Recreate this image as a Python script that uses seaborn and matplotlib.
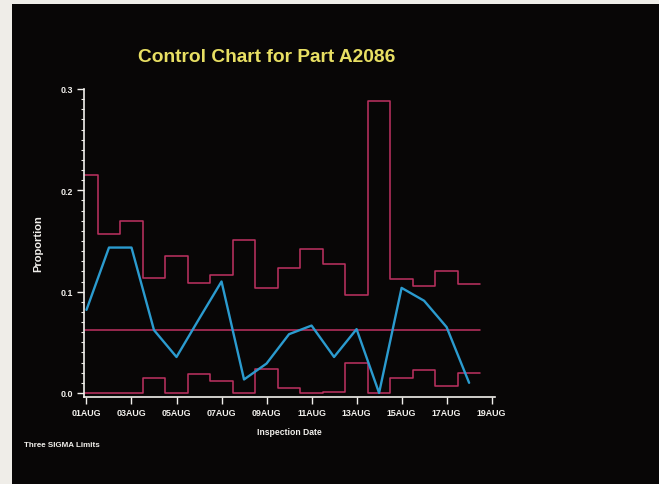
import numpy as np
import pandas as pd
import matplotlib
matplotlib.use("Agg")
import matplotlib.pyplot as plt
from matplotlib.patches import Rectangle
from matplotlib.ticker import MultipleLocator, FixedLocator
import seaborn as sns

# Inspection days (August) and the proportion defective per day
days = np.arange(1, 19)
proportion = [0.082, 0.1435, 0.1435, 0.062, 0.0355, 0.073, 0.110, 0.0133, 0.029,
              0.058, 0.0665, 0.0355, 0.063, 0.0, 0.1037, 0.091, 0.065, 0.010]
# Three-sigma control limits (vary with the daily sample size)
ucl = [0.2153, 0.157, 0.170, 0.113, 0.135, 0.1086, 0.1166, 0.151, 0.104,
       0.1236, 0.1425, 0.127, 0.0967, 0.288, 0.1123, 0.1053, 0.120, 0.1073]
lcl = [0.0, 0.0, 0.0, 0.0143, 0.0, 0.0186, 0.0113, 0.0, 0.0233,
       0.0047, 0.0, 0.001, 0.030, 0.0, 0.015, 0.0226, 0.0066, 0.020]
center = 0.0625
tick_days = list(range(1, 20, 2))
tick_labels = [f"{d:02d}AUG" for d in tick_days]
y_ticks = [0.0, 0.1, 0.2, 0.3]

sns.set_style("dark")
plt.rcParams["font.family"] = ["Liberation Sans", "DejaVu Sans"]

BG = "#080606"
PINK = "#b8305e"
BLUE = "#2b9bcf"
WHITE = "#f2f0ec"
YELLOW = "#e8df63"

fig = plt.figure(figsize=(6.59, 4.85), dpi=100, facecolor="#efede8")
fig.patches.append(Rectangle((12 / 659, 0), 1, 1 - 5 / 485, transform=fig.transFigure,
                             facecolor=BG, edgecolor="none", zorder=-10))

ax = fig.add_axes([84 / 659, 1 - 398 / 485, (495 - 84) / 659, (398 - 90) / 485])
ax.set_zorder(2)
ax.set_facecolor(BG)

# step outlines for the control limits, each held for one day
edges = np.column_stack([days - 0.5, days + 0.5]).ravel()
steps = pd.DataFrame({"day": edges,
                      "ucl": np.repeat(ucl, 2),
                      "lcl": np.repeat(lcl, 2)})
for col in ["ucl", "lcl"]:
    sns.lineplot(data=steps, x="day", y=col, sort=False, estimator=None,
                 color=PINK, lw=1.15, ax=ax)
ax.plot([0.8, days[-1] + 0.5], [center, center], color=PINK, lw=1.15)

obs = pd.DataFrame({"day": days, "p": proportion})
sns.lineplot(data=obs, x="day", y="p", estimator=None, color=BLUE, lw=1.7, ax=ax)

ax.set_xlim(0.89, 19.15)
ax.set_ylim(-0.004, 0.3)

for side in ["top", "right"]:
    ax.spines[side].set_visible(False)
for side in ["left", "bottom"]:
    ax.spines[side].set_visible(True)
    ax.spines[side].set_color(WHITE)
    ax.spines[side].set_linewidth(1.2)

ax.xaxis.set_major_locator(FixedLocator(tick_days))
ax.set_xticklabels(tick_labels)
ax.xaxis.set_minor_locator(FixedLocator(days))
ax.yaxis.set_major_locator(FixedLocator(y_ticks))
ax.set_yticklabels([f"{v:.1f}" for v in y_ticks])
ax.yaxis.set_minor_locator(MultipleLocator(0.01))

ax.tick_params(axis="both", which="major", colors=WHITE, labelcolor=WHITE,
               labelsize=6.4, width=1.0, length=5, direction="out", pad=3,
               bottom=True, left=True)
ax.tick_params(axis="both", which="minor", colors=WHITE, width=0.8, length=2.5,
               direction="out", bottom=False, left=True)
for lab in ax.get_xticklabels() + ax.get_yticklabels():
    lab.set_fontweight("bold")
ax.grid(False)

ax.set_xlabel("Inspection Date", color=WHITE, fontsize=6.2, fontweight="bold", labelpad=7)
ax.set_ylabel("Proportion", color=WHITE, fontsize=8, fontweight="bold", labelpad=12)

fig.text(267 / 659, 1 - 57 / 485, "Control Chart for Part A2086", color=YELLOW,
         fontsize=13.8, fontweight="bold", ha="center", va="center")
fig.text(24 / 659, 1 - 446 / 485, "Three SIGMA Limits", color=WHITE,
         fontsize=5.8, fontweight="bold", ha="left", va="center")

fig.savefig("out.png", dpi=100, facecolor=fig.get_facecolor())
